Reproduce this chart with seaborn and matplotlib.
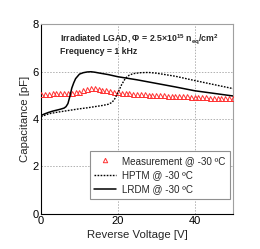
import matplotlib
matplotlib.use("Agg")
import matplotlib.pyplot as plt
import seaborn as sns
import pandas as pd
from matplotlib.ticker import MultipleLocator
from matplotlib.lines import Line2D

# Measurement @ -30 C
meas_v = list(range(0, 51))
meas_c = [5.05, 5.06, 5.07, 5.08, 5.08, 5.09, 5.09, 5.10, 5.10, 5.12,
          5.15, 5.21, 5.27, 5.31, 5.30, 5.27, 5.24, 5.21, 5.18, 5.15,
          5.12, 5.10, 5.09, 5.08, 5.07, 5.06, 5.05, 5.04, 5.03, 5.02,
          5.01, 5.00, 4.99, 4.98, 4.98, 4.97, 4.96, 4.95, 4.95, 4.94,
          4.93, 4.92, 4.92, 4.91, 4.90, 4.90, 4.89, 4.88, 4.88, 4.87, 4.87]

# HPTM model
hptm_v = [0, 2, 4, 6, 8, 10, 12, 14, 16, 17.5, 18.5, 19.2, 20, 21, 22, 23, 24, 26, 28, 30, 35, 40, 45, 50]
hptm_c = [4.10, 4.22, 4.28, 4.33, 4.38, 4.43, 4.47, 4.52, 4.57, 4.62, 4.70, 4.85, 5.10, 5.45, 5.72, 5.85, 5.91, 5.95, 5.96, 5.93, 5.80, 5.62, 5.45, 5.28]

# LRDM model
lrdm_v = [0, 1, 2, 3, 4, 5, 6, 6.5, 7, 7.5, 8, 8.5, 9, 10, 11, 12, 13, 14, 15, 17.5, 20, 25, 30, 35, 40, 45, 50]
lrdm_c = [4.15, 4.22, 4.28, 4.33, 4.37, 4.41, 4.46, 4.52, 4.65, 4.95, 5.30, 5.52, 5.70, 5.89, 5.95, 5.98, 5.99, 5.97, 5.94, 5.87, 5.78, 5.65, 5.50, 5.35, 5.19, 5.08, 4.97]

labels = ["Measurement @ -30 ºC", "HPTM @ -30 ºC", "LRDM @ -30 ºC"]
x_ticks = [0, 20, 40]
y_ticks = [0, 2, 4, 6, 8]

sns.set_style("white")
plt.rcParams['font.family'] = ['Liberation Sans', 'DejaVu Sans']
plt.rcParams['mathtext.fontset'] = 'custom'
plt.rcParams['mathtext.rm'] = 'Liberation Sans:bold'
plt.rcParams['mathtext.it'] = 'Liberation Sans:bold'
plt.rcParams['mathtext.bf'] = 'Liberation Sans:bold'
plt.rcParams['mathtext.default'] = 'rm'

fig = plt.figure(figsize=(2.6, 2.49), dpi=100)
ax = fig.add_axes([0.158, 0.1406, 0.738, 0.763])

df_m = pd.DataFrame({"V": meas_v, "C": meas_c})
df_h = pd.DataFrame({"V": hptm_v, "C": hptm_c})
df_l = pd.DataFrame({"V": lrdm_v, "C": lrdm_c})

red = "#ff3030"
dot = (0, (1.2, 1.0))
sns.lineplot(data=df_m, x="V", y="C", ax=ax, marker="^", linestyle="none",
             markerfacecolor="none", markeredgecolor=red, markersize=3.6,
             markeredgewidth=0.7, zorder=3, legend=False)
sns.lineplot(data=df_h, x="V", y="C", ax=ax, color="black", linestyle=dot,
             linewidth=1.0, zorder=4, legend=False)
sns.lineplot(data=df_l, x="V", y="C", ax=ax, color="black", linestyle="-",
             linewidth=1.1, zorder=4, legend=False)

ax.set_xlim(0, 50)
ax.set_ylim(0, 8)
ax.set_xticks(x_ticks)
ax.set_yticks(y_ticks)
ax.xaxis.set_minor_locator(MultipleLocator(5))
ax.yaxis.set_minor_locator(MultipleLocator(0.5))
ax.tick_params(axis="both", which="major", direction="in", length=4, width=0.7,
               labelsize=8, pad=1.5, colors="black")
ax.tick_params(axis="both", which="minor", direction="in", length=2.2, width=0.6)

ax.grid(True, which="major", color="#b0b0b0", linestyle=(0, (1.5, 1.5)), linewidth=0.7)

for s in ["left", "bottom"]:
    ax.spines[s].set_color("black")
    ax.spines[s].set_linewidth(0.8)
for s in ["top", "right"]:
    ax.spines[s].set_color("#a0a0a0")
    ax.spines[s].set_linewidth(0.8)

ax.set_xlabel("Reverse Voltage [V]", fontsize=8.2, labelpad=3)
ax.set_ylabel("Capacitance [pF]", fontsize=8.2, labelpad=2)

ax.text(0.099, 0.921, r"Irradiated LGAD, Φ = 2.5×10$^{15}$ n$_{eq}$/cm$^{2}$",
        transform=ax.transAxes, fontsize=6.3, fontweight="bold", va="center", ha="left")
ax.text(0.099, 0.853, "Frequency = 1 kHz", transform=ax.transAxes, fontsize=6.3,
        fontweight="bold", va="center", ha="left")

handles = [
    Line2D([], [], marker="^", linestyle="none", markerfacecolor="none",
           markeredgecolor=red, markersize=3.2, markeredgewidth=0.7),
    Line2D([], [], color="black", linestyle=dot, linewidth=1.0),
    Line2D([], [], color="black", linestyle="-", linewidth=1.1),
]
leg = ax.legend(handles, labels, loc="lower right", bbox_to_anchor=(0.984, 0.079),
                borderaxespad=0, fontsize=7.1, frameon=True, fancybox=False,
                edgecolor="#909090", handlelength=2.2, handletextpad=0.65,
                labelspacing=0.45, borderpad=0.45, framealpha=1)
leg.get_frame().set_linewidth(0.8)

fig.savefig("out.png", dpi=100)
